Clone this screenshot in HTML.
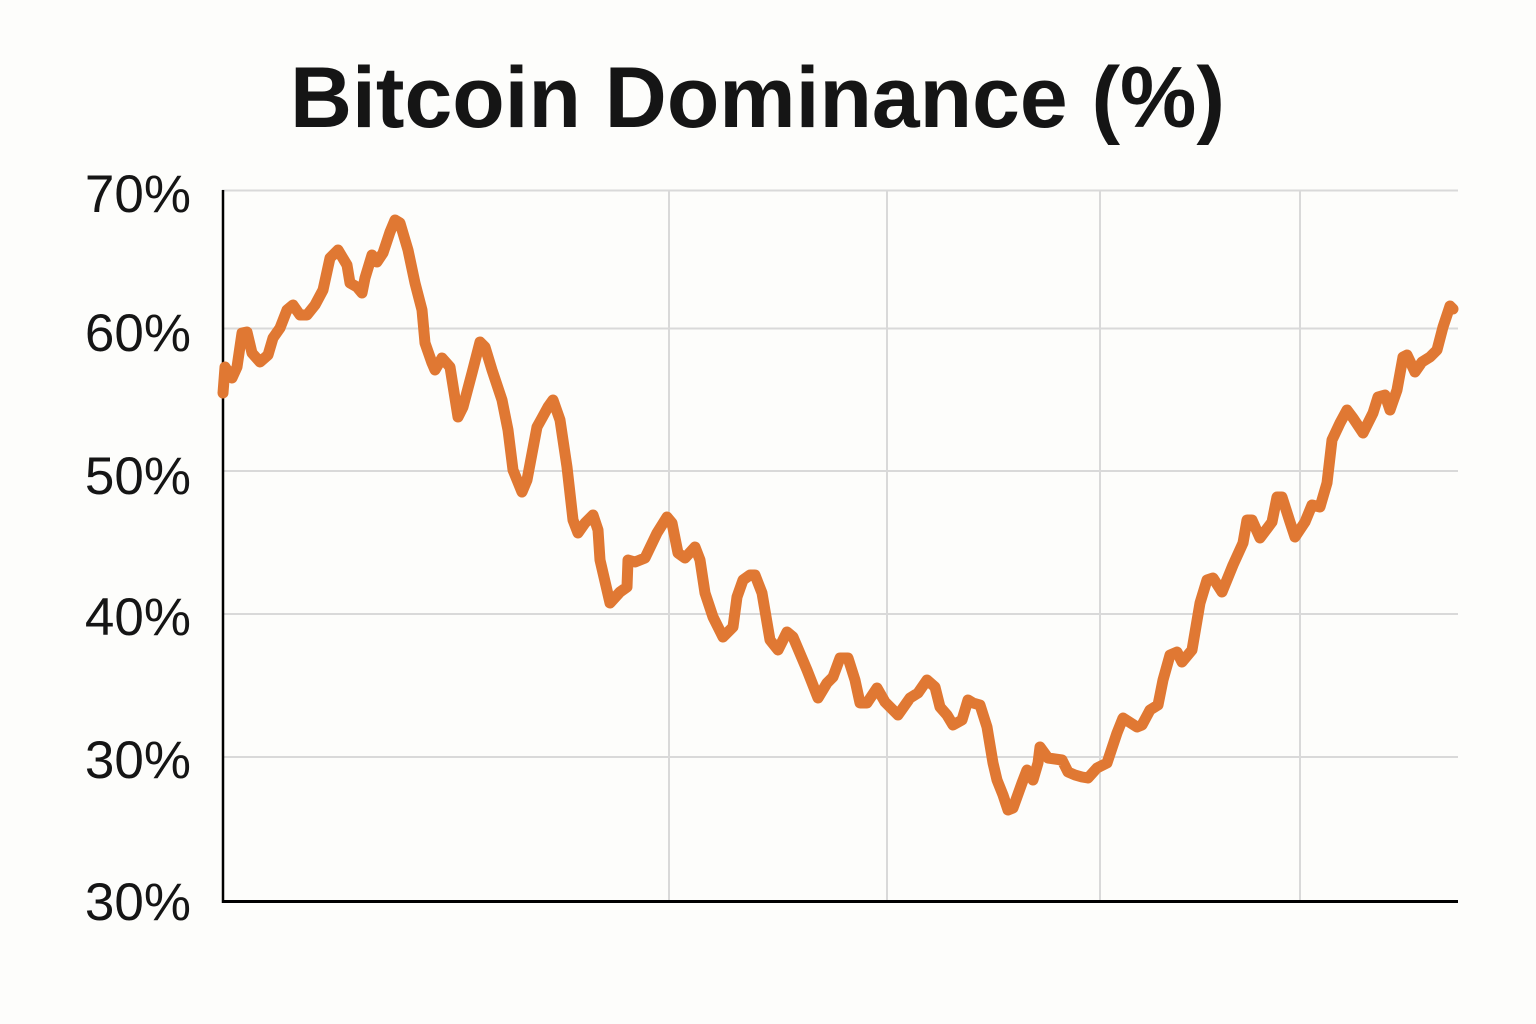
<!DOCTYPE html>
<html>
<head>
<meta charset="utf-8">
<style>
  html,body{margin:0;padding:0;background:#fdfdfb;}
  svg{display:block;}
</style>
</head>
<body>
<svg width="1536" height="1024" viewBox="0 0 1536 1024" xmlns="http://www.w3.org/2000/svg">
  <rect x="0" y="0" width="1536" height="1024" fill="#fdfdfb"/>
  <text x="290" y="127" font-family="Liberation Sans, sans-serif" font-weight="bold" font-size="86" fill="#151515" textLength="935" lengthAdjust="spacingAndGlyphs">Bitcoin Dominance (%)</text>

  <!-- gridlines -->
  <g stroke="#d9d9d9" stroke-width="2">
    <line x1="222" y1="190.5" x2="1458" y2="190.5"/>
    <line x1="222" y1="328.5" x2="1458" y2="328.5"/>
    <line x1="222" y1="471" x2="1458" y2="471"/>
    <line x1="222" y1="614" x2="1458" y2="614"/>
    <line x1="222" y1="757" x2="1458" y2="757"/>
    <line x1="669" y1="190" x2="669" y2="901"/>
    <line x1="887" y1="190" x2="887" y2="901"/>
    <line x1="1100" y1="190" x2="1100" y2="901"/>
    <line x1="1300" y1="190" x2="1300" y2="901"/>
  </g>

  <!-- axes -->
  <line x1="223" y1="190" x2="223" y2="903" stroke="#000" stroke-width="2.5"/>
  <line x1="222" y1="901.5" x2="1458" y2="901.5" stroke="#000" stroke-width="3"/>

  <!-- tick labels -->
  <g font-family="Liberation Sans, sans-serif" font-size="53" fill="#151515" text-anchor="end">
    <text x="191" y="212">70%</text>
    <text x="191" y="351">60%</text>
    <text x="191" y="494">50%</text>
    <text x="191" y="635">40%</text>
    <text x="191" y="778">30%</text>
    <text x="191" y="920">30%</text>
  </g>

  <!-- series -->
  <polyline fill="none" stroke="#e07833" stroke-width="11" stroke-linejoin="round" stroke-linecap="round"
    points="223,393 225,367 232,378 237,367 242,333 247,332 252,353 260,362 268,355 273,338 280,328 287,310 293,305 300,315 307,315 315,305 323,290 330,258 338,250 347,265 350,283 357,287 362,293 365,278 372,255 377,262 383,253 390,232 395,220 400,223 408,250 415,283 422,310 425,343 432,363 435,370 442,358 450,367 458,417 463,407 472,373 480,342 485,347 492,370 502,400 508,430 513,470 522,492 527,480 537,427 542,418 548,407 553,400 560,420 567,467 573,520 578,533 585,523 593,515 598,530 600,560 610,603 620,592 627,587 628,560 635,562 645,558 657,533 667,517 672,523 678,553 685,558 695,547 700,560 705,593 713,617 723,637 733,627 737,597 743,580 750,575 755,575 762,593 770,640 778,650 787,632 793,637 807,670 818,698 827,683 833,677 840,658 848,658 855,680 860,703 867,703 877,688 885,702 898,715 910,698 918,693 927,680 935,687 940,707 947,715 953,725 962,720 968,700 973,703 980,705 987,727 993,763 997,780 1003,795 1008,810 1013,808 1022,783 1027,770 1033,780 1038,763 1040,747 1048,758 1062,760 1068,772 1075,775 1082,777 1088,778 1097,768 1107,763 1117,733 1123,718 1137,727 1142,725 1150,710 1158,705 1163,680 1170,655 1177,652 1182,662 1192,650 1200,603 1207,580 1213,578 1222,592 1233,565 1243,543 1247,520 1252,520 1260,538 1272,522 1277,497 1282,497 1290,522 1295,537 1305,522 1312,505 1320,507 1327,483 1332,440 1340,423 1347,410 1353,418 1363,433 1373,413 1378,397 1385,395 1390,410 1397,390 1403,357 1407,355 1415,372 1422,362 1430,357 1437,350 1443,327 1447,315 1450,306 1453,309"/>
</svg>
</body>
</html>
